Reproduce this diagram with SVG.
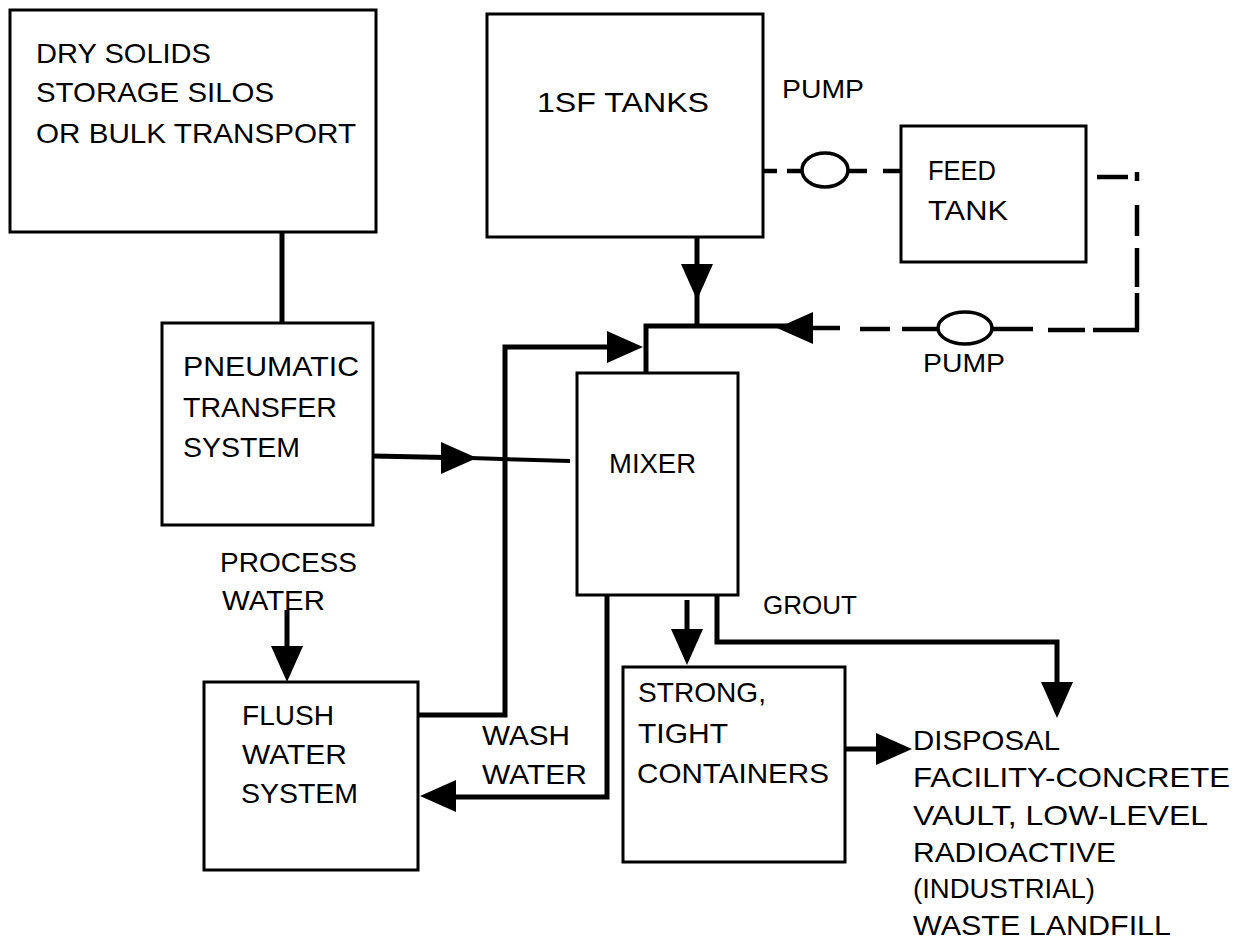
<svg xmlns="http://www.w3.org/2000/svg" xmlns:xlink="http://www.w3.org/1999/xlink" width="1239" height="952" viewBox="0 0 1239 952">
<style>
.box{fill:#fff;stroke:#000;stroke-width:3}
.ln{fill:none;stroke:#000;stroke-width:5;stroke-linejoin:miter;stroke-linecap:butt}
.dl{fill:none;stroke:#000;stroke-width:4.5}
.pump{fill:#fff;stroke:#000;stroke-width:3.5}
text{font-family:"Liberation Sans",Arial,Helvetica,sans-serif;font-size:28px;fill:#000}
text.sm{font-size:26px}
</style>
<defs>
<path id="ah" d="M0,0 L-36,-16 L-36,16 Z" fill="#000"/>
</defs>
<rect width="1239" height="952" fill="#fff"/>

<g id="connectors">
  <!-- dry solids to pneumatic -->
  <path class="ln" d="M282,232 V323"/>
  <!-- 1SF down to mixer junction -->
  <path class="ln" d="M697,237 V326"/>
  <!-- mixer top junction -->
  <path class="ln" d="M646,373 V326 H790"/>
  <!-- flush to mixer -->
  <path class="ln" d="M418,715 H505 V347 H620"/>
  <!-- pneumatic to mixer -->
  <path class="ln" d="M373,456 L470,458"/>
  <path d="M470,458 L570,461" stroke="#000" stroke-width="4" fill="none"/>
  <!-- process water -->
  <path class="ln" d="M287,610 V660"/>
  <!-- wash water -->
  <path class="ln" d="M607,595 V797 H440"/>
  <!-- to strong containers -->
  <path class="ln" d="M687,600 V645"/>
  <!-- grout -->
  <path class="ln" d="M717,592 V642 H1057 V695"/>
  <!-- strong to disposal -->
  <path class="ln" d="M845,749 H890"/>
  <!-- dashed recirculation lines -->
  <g class="dl">
    <path d="M763,171 H777"/>
    <path d="M787,171 H802"/>
    <path d="M848,171 H867"/>
    <path d="M883,171 H902"/>
    <path d="M1097,177 H1128"/>
    <path d="M1137,172 V181"/>
    <path d="M1137,205 V236"/>
    <path d="M1137,248 V287"/>
    <path d="M1137,293 V330"/>
    <path d="M1139,330 H1093"/>
    <path d="M1085,330 H1048"/>
    <path d="M1033,329 H992"/>
    <path d="M938,329 H902"/>
    <path d="M890,329 H860"/>
    <path d="M840,328 H790"/>
  </g>
  <ellipse class="pump" cx="825" cy="170" rx="23" ry="17"/>
  <ellipse class="pump" cx="965" cy="328" rx="27" ry="16" stroke-width="5"/>
  <!-- arrowheads -->
  <use xlink:href="#ah" transform="translate(697,300) rotate(90)"/>
  <use xlink:href="#ah" transform="translate(643,347)"/>
  <use xlink:href="#ah" transform="translate(477,458)"/>
  <use xlink:href="#ah" transform="translate(777,328) rotate(180)"/>
  <use xlink:href="#ah" transform="translate(287,682) rotate(90)"/>
  <use xlink:href="#ah" transform="translate(420,796) rotate(180)"/>
  <use xlink:href="#ah" transform="translate(687,665) rotate(90)"/>
  <use xlink:href="#ah" transform="translate(1057,718) rotate(90)"/>
  <use xlink:href="#ah" transform="translate(912,749)"/>
</g>

<g id="dry-solids">
  <rect class="box" x="10" y="10" width="366" height="222"/>
  <text x="36" y="63" textLength="175" lengthAdjust="spacingAndGlyphs">DRY SOLIDS</text>
  <text x="36" y="102" textLength="238" lengthAdjust="spacingAndGlyphs">STORAGE SILOS</text>
  <text x="36" y="143" textLength="320" lengthAdjust="spacingAndGlyphs">OR BULK TRANSPORT</text>
</g>

<g id="isf-tanks">
  <rect class="box" x="487" y="14" width="276" height="223"/>
  <text x="537" y="112" textLength="172" lengthAdjust="spacingAndGlyphs">1SF TANKS</text>
</g>

<g id="pump-top-label">
  <text class="sm" x="782" y="98" textLength="82" lengthAdjust="spacingAndGlyphs">PUMP</text>
</g>

<g id="feed-tank">
  <rect class="box" x="901" y="126" width="185" height="136"/>
  <text x="928" y="180" textLength="68" lengthAdjust="spacingAndGlyphs">FEED</text>
  <text x="928" y="220" textLength="80" lengthAdjust="spacingAndGlyphs">TANK</text>
</g>

<g id="pump-bottom-label">
  <text class="sm" x="923" y="372" textLength="82" lengthAdjust="spacingAndGlyphs">PUMP</text>
</g>

<g id="pneumatic">
  <rect class="box" x="162" y="323" width="211" height="202"/>
  <text x="183" y="376" textLength="176" lengthAdjust="spacingAndGlyphs">PNEUMATIC</text>
  <text x="183" y="417" textLength="154" lengthAdjust="spacingAndGlyphs">TRANSFER</text>
  <text x="183" y="457" textLength="117" lengthAdjust="spacingAndGlyphs">SYSTEM</text>
</g>

<g id="mixer">
  <rect class="box" x="577" y="373" width="161" height="222"/>
  <text x="609" y="473" textLength="87" lengthAdjust="spacingAndGlyphs">MIXER</text>
</g>

<g id="process-water-label">
  <text x="220" y="572" textLength="137" lengthAdjust="spacingAndGlyphs">PROCESS</text>
  <text x="222" y="610" textLength="103" lengthAdjust="spacingAndGlyphs">WATER</text>
</g>

<g id="flush-water">
  <rect class="box" x="204" y="682" width="214" height="188"/>
  <text x="242" y="725" textLength="92" lengthAdjust="spacingAndGlyphs">FLUSH</text>
  <text x="242" y="764" textLength="105" lengthAdjust="spacingAndGlyphs">WATER</text>
  <text x="241" y="803" textLength="117" lengthAdjust="spacingAndGlyphs">SYSTEM</text>
</g>

<g id="wash-water-label">
  <text x="482" y="745" textLength="88" lengthAdjust="spacingAndGlyphs">WASH</text>
  <text x="482" y="784" textLength="105" lengthAdjust="spacingAndGlyphs">WATER</text>
</g>

<g id="grout-label">
  <text class="sm" x="763" y="614" textLength="94" lengthAdjust="spacingAndGlyphs">GROUT</text>
</g>

<g id="strong-containers">
  <rect class="box" x="623" y="667" width="222" height="195"/>
  <text x="638" y="702" textLength="128" lengthAdjust="spacingAndGlyphs">STRONG,</text>
  <text x="638" y="743" textLength="90" lengthAdjust="spacingAndGlyphs">TIGHT</text>
  <text x="637" y="783" textLength="192" lengthAdjust="spacingAndGlyphs">CONTAINERS</text>
</g>

<g id="disposal">
  <text x="913" y="750" textLength="147" lengthAdjust="spacingAndGlyphs">DISPOSAL</text>
  <text x="913" y="787" textLength="317" lengthAdjust="spacingAndGlyphs">FACILITY-CONCRETE</text>
  <text x="913" y="825" textLength="295" lengthAdjust="spacingAndGlyphs">VAULT, LOW-LEVEL</text>
  <text x="913" y="862" textLength="203" lengthAdjust="spacingAndGlyphs">RADIOACTIVE</text>
  <text x="913" y="898" textLength="182" lengthAdjust="spacingAndGlyphs">(INDUSTRIAL)</text>
  <text x="913" y="935" textLength="258" lengthAdjust="spacingAndGlyphs">WASTE LANDFILL</text>
</g>
</svg>
